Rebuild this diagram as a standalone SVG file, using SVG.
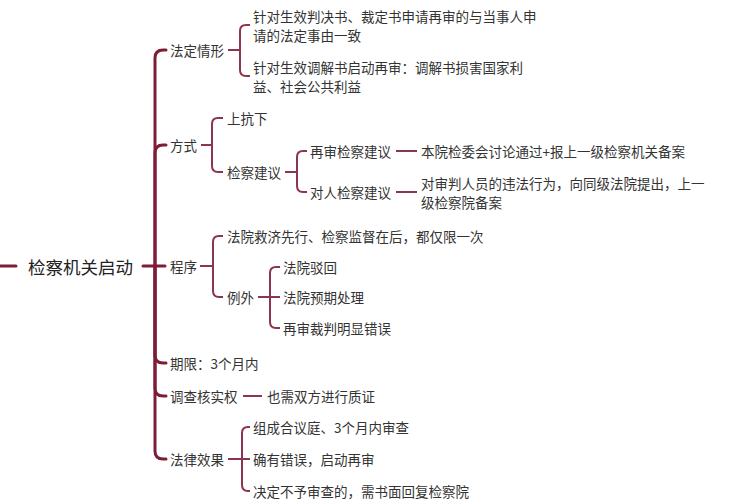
<svg xmlns="http://www.w3.org/2000/svg" width="754" height="500" viewBox="0 0 754 500">
<style>
text{font-family:"Noto Sans CJK SC","Noto Sans",sans-serif;font-size:13.5px;fill:#333;dominant-baseline:central}
.root{font-size:17.5px;fill:#222}
.t{fill:none;stroke:#7d1d38;stroke-width:3;stroke-linecap:round;stroke-linejoin:round}
.c{fill:none;stroke:#8c3550;stroke-width:2;stroke-linecap:butt;stroke-linejoin:round}
</style>
<rect width="754" height="500" fill="#fff"/>
<g id="connectors">
<path class="t" d="M0,266 H16"/>
<path class="t" d="M143,266 H165"/>
<path class="t" d="M155,266 V58 Q155,50 163,50 H166"/>
<path class="t" d="M155,266 V153 Q155,145 163,145 H166"/>
<path class="t" d="M155,266 V355 Q155,363 163,363 H166"/>
<path class="t" d="M155,266 V388 Q155,396 163,396 H166"/>
<path class="t" d="M155,266 V451 Q155,459 163,459 H166"/>
<path class="c" d="M228,50 H240 M240,50 V31 Q240,25 246,25 H250 M240,50 V70 Q240,76 246,76 H250"/>
<path class="c" d="M201,145 H212 M212,145 V124 Q212,118 218,118 H223 M212,145 V166 Q212,172 218,172 H223"/>
<path class="c" d="M285,172 H297 M297,172 V157 Q297,151 303,151 H307 M297,172 V186 Q297,192 303,192 H307"/>
<path class="c" d="M396,151 H417"/>
<path class="c" d="M396,192 H417"/>
<path class="c" d="M200,266 H213 M213,266 V242 Q213,236 219,236 H223 M213,266 V291 Q213,297 219,297 H223"/>
<path class="c" d="M258,297 H280 M270,297 V273 Q270,267 276,267 H280 M270,297 V322 Q270,328 276,328 H280"/>
<path class="c" d="M243,396 H262"/>
<path class="c" d="M228,459 H250 M242,459 V433 Q242,427 248,427 H250 M242,459 V485 Q242,491 248,491 H250"/>
</g>
<g id="root"><text class="root" x="28" y="266">检察机关启动</text></g>
<g id="n-fading"><text x="170" y="50">法定情形</text></g>
<g id="n-fading-1"><text x="253" y="16">针对生效判决书、裁定书申请再审的与当事人申</text><text x="253" y="35">请的法定事由一致</text></g>
<g id="n-fading-2"><text x="253" y="67">针对生效调解书启动再审：调解书损害国家利</text><text x="253" y="86">益、社会公共利益</text></g>
<g id="n-fangshi"><text x="170" y="145">方式</text></g>
<g id="n-shangkangxia"><text x="227" y="118">上抗下</text></g>
<g id="n-jianchajianyi"><text x="227" y="172">检察建议</text></g>
<g id="n-zaishen"><text x="310" y="151">再审检察建议</text></g>
<g id="n-zaishen-1"><text x="421" y="151">本院检委会讨论通过+报上一级检察机关备案</text></g>
<g id="n-duiren"><text x="310" y="192">对人检察建议</text></g>
<g id="n-duiren-1"><text x="421" y="183">对审判人员的违法行为，向同级法院提出，上一</text><text x="421" y="202">级检察院备案</text></g>
<g id="n-chengxu"><text x="170" y="266">程序</text></g>
<g id="n-chengxu-1"><text x="227" y="236">法院救济先行、检察监督在后，都仅限一次</text></g>
<g id="n-liwai"><text x="227" y="297">例外</text></g>
<g id="n-liwai-1"><text x="283" y="267">法院驳回</text></g>
<g id="n-liwai-2"><text x="283" y="297">法院预期处理</text></g>
<g id="n-liwai-3"><text x="283" y="328">再审裁判明显错误</text></g>
<g id="n-qixian"><text x="170" y="363">期限：3个月内</text></g>
<g id="n-diaocha"><text x="170" y="396">调查核实权</text></g>
<g id="n-diaocha-1"><text x="267" y="396">也需双方进行质证</text></g>
<g id="n-xiaoguo"><text x="170" y="459">法律效果</text></g>
<g id="n-xiaoguo-1"><text x="253" y="427">组成合议庭、3个月内审查</text></g>
<g id="n-xiaoguo-2"><text x="253" y="459">确有错误，启动再审</text></g>
<g id="n-xiaoguo-3"><text x="253" y="491">决定不予审查的，需书面回复检察院</text></g>
</svg>
